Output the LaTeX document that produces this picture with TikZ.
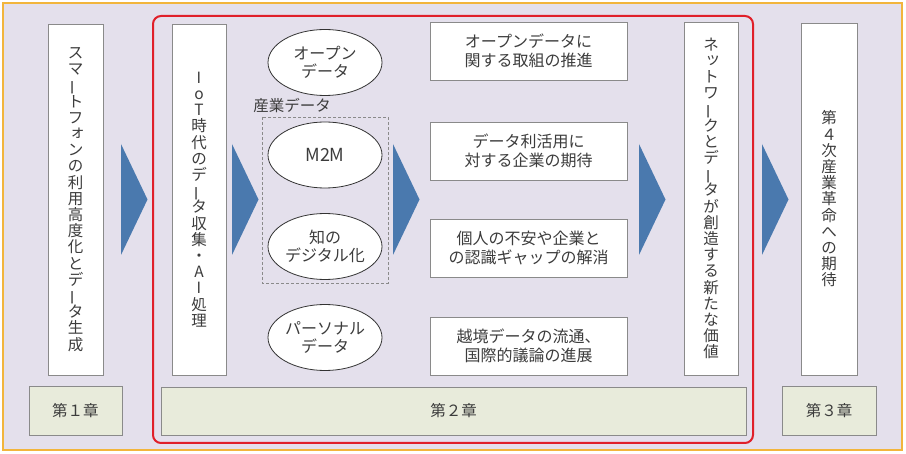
\documentclass[tikz,border=0pt]{standalone}
\usepackage{fontspec}
\usepackage{graphicx}
\newfontfamily\jp{Noto Sans CJK JP}
\usetikzlibrary{calc}

\definecolor{bgpurple}{HTML}{E4E0EC}
\definecolor{frameorange}{HTML}{F2B53C}
\definecolor{framered}{HTML}{E0202A}
\definecolor{chapfill}{HTML}{E8EBDB}
\definecolor{boxgray}{HTML}{8A8A8A}
\definecolor{arrowblue}{HTML}{4A79AE}
\definecolor{textgray}{HTML}{3C3C3C}

% long vowel mark and small kana in vertical writing
\newcommand{\vbar}{\raisebox{0pt}[0.88em][0.12em]{\rotatebox[origin=c]{90}{ー}}}
\newcommand{\sk}[1]{\raisebox{0.14em}[0.88em][0.12em]{\makebox[1em][l]{\hspace{0.12em}#1}}}

\tikzset{
	tatebox/.style={draw=boxgray, fill=white, line width=0.8pt, inner sep=0pt, align=center,
		text=textgray, font=\jp\fontsize{15.5}{16.2}\selectfont},
	yokobox/.style={draw=boxgray, fill=white, line width=0.8pt, inner sep=0pt, align=center,
		minimum width=197, minimum height=58, text=textgray, font=\jp\fontsize{16}{18.5}\selectfont},
	chapbox/.style={draw=boxgray, fill=chapfill, line width=0.8pt, inner sep=0pt,
		minimum height=49, text=textgray, font=\jp\fontsize{15.5}{18}\selectfont},
	databubble/.style={ellipse, draw=black!80, fill=white, line width=0.8pt, inner sep=0pt,
		minimum width=114, minimum height=66, align=center, text=textgray,
		font=\jp\fontsize{16}{18.5}\selectfont},
}
\usetikzlibrary{shapes.geometric}

\begin{document}
\begin{tikzpicture}[x=1pt, y=-1pt]
	\useasboundingbox (0,0) rectangle (906,454);

	% draw background and frames
	\filldraw[fill=bgpurple, draw=frameorange, line width=1.4pt] (3,3) rectangle (902,450);
	\draw[framered, line width=2pt, rounded corners=8pt] (153,16) rectangle (753,443);

	% draw chapter 1 column
	\node[tatebox, minimum width=55, minimum height=351] (smartphone) at (75.5,199.5)
		{ス\\マ\\\vbar\\ト\\フ\\\sk{ォ}\\ン\\の\\利\\用\\高\\度\\化\\と\\デ\\\vbar\\タ\\生\\成};
	\node[chapbox, minimum width=93] (chap1) at (75.5,410.5) {第１章};

	% draw chapter 2 column
	\node[tatebox, minimum width=54, minimum height=351] (iot) at (199,199.5)
		{I\\o\\T\\時\\代\\の\\デ\\\vbar\\タ\\収\\集\\・\\A\\I\\処\\理};

	\node[databubble] (opendata) at (325,62.5) {オープン\\データ};
	\node[text=textgray, font=\jp\fontsize{15.5}{18}\selectfont, inner sep=0pt] (sangyo) at (292,106) {産業データ};
	\draw[boxgray, line width=0.8pt, dash pattern=on 3pt off 2pt] (262,117) rectangle (388,283);
	\node[databubble, font=\jp\fontsize{18}{20}\selectfont] (m2m) at (325,155) {M2M};
	\node[databubble] (chi) at (325,246.5) {知の\\デジタル化};
	\node[databubble] (personal) at (325,337.5) {パーソナル\\データ};

	\node[yokobox] (torikumi) at (528.5,51) {オープンデータに\\関する取組の推進};
	\node[yokobox] (kitai) at (528.5,151) {データ利活用に\\対する企業の期待};
	\node[yokobox] (gap) at (528.5,248) {個人の不安や企業と\\の認識ギャップの解消};
	\node[yokobox] (ekkyo) at (528.5,346) {越境データの流通、\\国際的議論の進展};

	\node[tatebox, minimum width=54, minimum height=353] (network) at (711,198.5)
		{ネ\\\sk{ッ}\\ト\\ワ\\\vbar\\ク\\と\\デ\\\vbar\\タ\\が\\創\\造\\す\\る\\新\\た\\な\\価\\値};
	\node[chapbox, minimum width=585, minimum height=48] (chap2) at (453.5,411) {第２章};

	% draw chapter 3 column
	\node[tatebox, minimum width=56, minimum height=352] (yonji) at (829,199)
		{第\\４\\次\\産\\業\\革\\命\\へ\\の\\期\\待};
	\node[chapbox, minimum width=94] (chap3) at (829,410.5) {第３章};

	% draw the big arrows between the columns
	\foreach \x in {121,232,393,639,762} {
		\fill[arrowblue] (\x,144) -- (\x+26.5,199.5) -- (\x,255) -- cycle;
	}
\end{tikzpicture}
\end{document}
